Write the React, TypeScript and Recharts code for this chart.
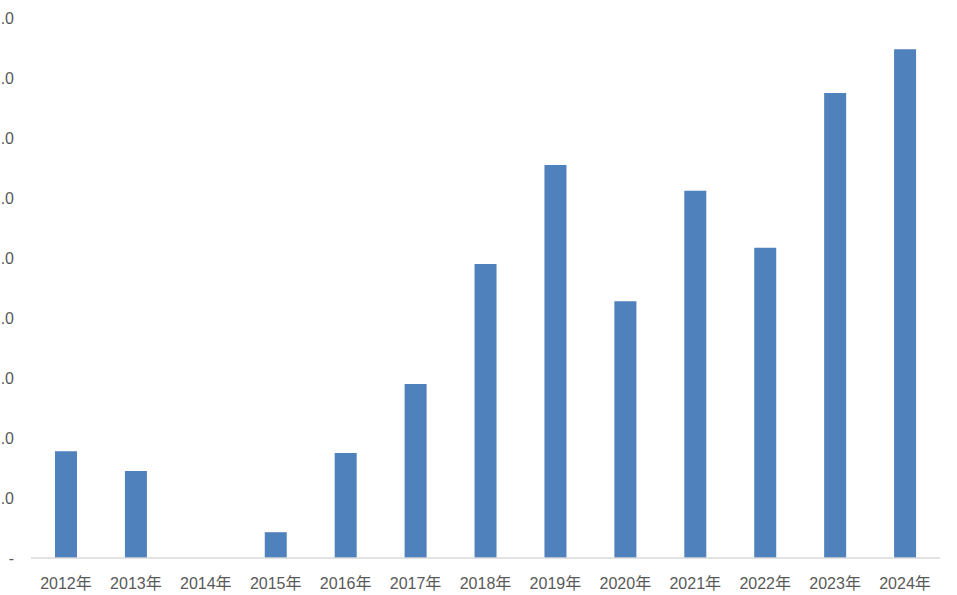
import React from 'react';
import { BarChart, Bar, XAxis, YAxis } from 'recharts';

const years = ['2012年', '2013年', '2014年', '2015年', '2016年', '2017年', '2018年', '2019年', '2020年', '2021年', '2022年', '2023年', '2024年'];
const values = [1.78, 1.45, 0, 0.43, 1.75, 2.9, 4.9, 6.55, 4.28, 6.12, 5.17, 7.75, 8.48];
const yTicks = [0, 1, 2, 3, 4, 5, 6, 7, 8, 9];

const data = years.map((year, i) => ({ year, value: values[i] }));

const font = '"Liberation Sans", "Noto Sans CJK SC", sans-serif';

const XTick = ({ x, payload }: any) => (
  <text x={x} y={589} textAnchor="middle" fill="#595959" fontSize={16} fontFamily={font}>
    {payload.value}
  </text>
);

// the reference is cropped at the left edge, only the ".0" part of each label shows
const YTick = ({ y, payload }: any) => (
  <text x={14} y={y} dy={6} textAnchor="end" fill="#595959" fontSize={16} fontFamily={font}>
    {payload.value === 0 ? '-' : '.0'}
  </text>
);

const App: React.FC = () => {
  return (
    <div style={{ position: 'absolute', left: 0, top: 0, width: 957, height: 595, background: '#fff' }}>
      <BarChart width={957} height={595} data={data} margin={{ top: 18, right: 17, bottom: 0, left: 0 }}>
        <XAxis
          dataKey="year"
          axisLine={{ stroke: '#d9d9d9', strokeWidth: 1.5 }}
          tickLine={false}
          height={37}
          tick={<XTick />}
          interval={0}
        />
        <YAxis
          width={31}
          domain={[0, 9]}
          ticks={yTicks}
          axisLine={false}
          tickLine={false}
          tick={<YTick />}
          interval={0}
        />
        <Bar dataKey="value" fill="#4F81BD" barSize={22} isAnimationActive={false} />
      </BarChart>
    </div>
  );
};

export default App;
